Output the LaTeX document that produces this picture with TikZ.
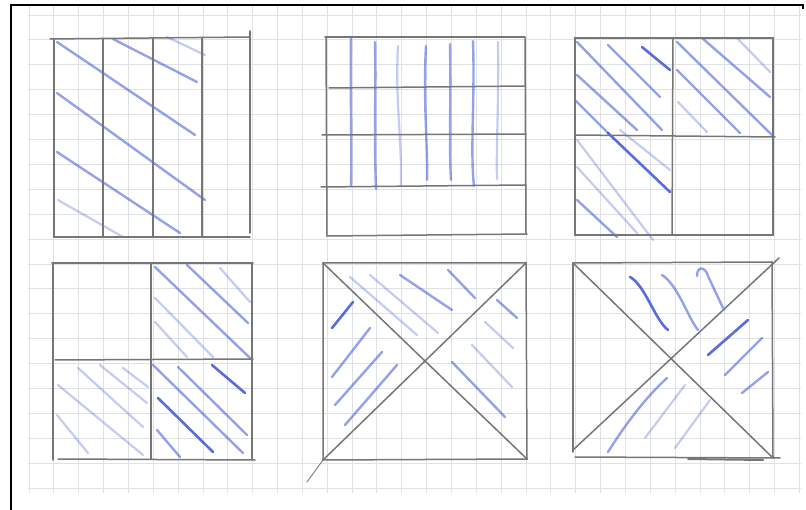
\documentclass[tikz,border=0pt]{standalone}
\usetikzlibrary{calc}
\definecolor{pencilgray}{RGB}{118,118,118}
\definecolor{hatchblue}{RGB}{62,84,214}
\definecolor{gridgray}{RGB}{222,226,231}
\tikzset{
  gridline/.style={
    draw=gridgray,
    line width=0.9pt
  },
  sheetframe/.style={
    draw=black,
    line width=2.0pt
  },
  pencilline/.style={
    draw=pencilgray,
    line width=1.5pt,
    line cap=round
  },
  hatchstrong/.style={
    draw=hatchblue,
    draw opacity=0.85,
    line width=2.6pt,
    line cap=round
  },
  hatchmid/.style={
    draw=hatchblue,
    draw opacity=0.55,
    line width=2.4pt,
    line cap=round
  },
  hatchlight/.style={
    draw=hatchblue,
    draw opacity=0.30,
    line width=2.2pt,
    line cap=round
  }
}

\begin{document}
\begin{tikzpicture}[x=1pt,y=-1pt]

  \useasboundingbox (0,0) rectangle (806,510);

  % Squared paper in the background.
  \foreach \i in {0,...,31}
    \draw[gridline] ({29+24.85*\i},5) -- ({29+24.85*\i},493);
  \foreach \j in {0,...,19}
    \draw[gridline] (28,{15+24.9*\j}) -- (801,{15+24.9*\j});

  % Edge of the scanned sheet.
  \draw[sheetframe] (11,510) -- (11,5) -- (803,5) -- (803,9);

  % Square 1: four vertical strips, three of them hatched.
  \draw[hatchmid] (57,42) -- (195,135);
  \draw[hatchmid] (113,39) -- (197,82);
  \draw[hatchlight] (167,37) -- (205,55);
  \draw[hatchmid] (57,93) -- (205,200);
  \draw[hatchmid] (57,152) -- (180,233);
  \draw[hatchlight] (58,200) -- (123,237);
  \draw[pencilline] (50,39) -- (249,37);
  \draw[pencilline] (54,39) -- (54,237) -- (250,237);
  \draw[pencilline] (250,31) -- (250,233);
  \draw[pencilline] (103,39) -- (103,237);
  \draw[pencilline] (153,38) -- (153,237);
  \draw[pencilline] (202,38) -- (202,237);

  % Square 2: four rows, the upper three hatched upright.
  \draw[hatchmid] (351,37) .. controls (350,90) and (352,140) .. (351,186);
  \draw[hatchmid] (375,42) .. controls (376,90) and (374,140) .. (376,189);
  \draw[hatchlight] (398,46) .. controls (395,100) and (402,140) .. (401,185);
  \draw[hatchmid] (426,46) .. controls (423,100) and (428,150) .. (427,180);
  \draw[hatchmid] (450,44) .. controls (451,100) and (449,150) .. (451,180);
  \draw[hatchmid] (473,41) .. controls (475,100) and (470,150) .. (474,186);
  \draw[hatchlight] (498,42) .. controls (499,100) and (496,150) .. (497,179);
  \draw[pencilline] (325,37) -- (525,37);
  \draw[pencilline] (326,37) -- (327,236) -- (527,234);
  \draw[pencilline] (525,38) -- (526,234);
  \draw[pencilline] (329,88) -- (525,86);
  \draw[pencilline] (322,135) -- (526,134);
  \draw[pencilline] (321,187) -- (525,185);

  % Square 3: quarters, three of them hatched.
  \draw[hatchmid] (577,42) -- (662,130);
  \draw[hatchmid] (608,45) -- (660,97);
  \draw[hatchstrong] (642,47) -- (670,70);
  \draw[hatchmid] (577,75) -- (637,130);
  \draw[hatchmid] (575,100) -- (608,133);
  \draw[hatchstrong] (608,133) -- (670,192);
  \draw[hatchlight] (620,130) -- (670,170);
  \draw[hatchlight] (577,140) -- (653,240);
  \draw[hatchlight] (577,167) -- (637,233);
  \draw[hatchmid] (577,200) -- (617,237);
  \draw[hatchmid] (677,42) -- (772,135);
  \draw[hatchmid] (702,38) -- (770,97);
  \draw[hatchlight] (737,38) -- (770,72);
  \draw[hatchmid] (677,70) -- (740,133);
  \draw[hatchlight] (678,102) -- (707,132);
  \draw[pencilline] (575,38) rectangle (773,235);
  \draw[pencilline] (673,38) -- (672,235);
  \draw[pencilline] (575,135) -- (775,137);

  % Square 4: quarters, the upper left one left blank.
  \draw[hatchmid] (155,267) -- (250,358);
  \draw[hatchmid] (187,265) -- (248,323);
  \draw[hatchlight] (220,268) -- (250,302);
  \draw[hatchlight] (155,298) -- (213,357);
  \draw[hatchlight] (155,322) -- (187,357);
  \draw[hatchlight] (58,385) -- (143,455);
  \draw[hatchlight] (78,368) -- (143,427);
  \draw[hatchlight] (100,365) -- (147,403);
  \draw[hatchlight] (123,368) -- (148,387);
  \draw[hatchlight] (57,415) -- (88,453);
  \draw[hatchmid] (153,365) -- (243,453);
  \draw[hatchmid] (178,367) -- (247,435);
  \draw[hatchstrong] (212,365) -- (245,393);
  \draw[hatchstrong] (158,398) -- (213,452);
  \draw[hatchmid] (157,430) -- (180,457);
  \draw[pencilline] (52,263) -- (253,263);
  \draw[pencilline] (53,264) -- (53,460);
  \draw[pencilline] (58,459) -- (255,460);
  \draw[pencilline] (252,263) -- (252,460);
  \draw[pencilline] (151,263) -- (151,459);
  \draw[pencilline] (55,360) -- (253,359);

  % Square 5: four triangles from the diagonals, three hatched.
  \coordinate (Q5a) at (323,263);
  \coordinate (Q5b) at (526,263);
  \coordinate (Q5c) at (527,459);
  \coordinate (Q5d) at (323,460);
  \draw[hatchlight] (350,277) -- (417,335);
  \draw[hatchlight] (370,275) -- (438,333);
  \draw[hatchmid] (400,275) -- (452,310);
  \draw[hatchmid] (448,270) -- (475,298);
  \draw[hatchmid] (497,300) -- (517,318);
  \draw[hatchlight] (485,322) -- (513,348);
  \draw[hatchlight] (472,345) -- (512,387);
  \draw[hatchmid] (452,362) -- (505,417);
  \draw[hatchstrong] (332,328) -- (353,302);
  \draw[hatchmid] (332,377) -- (370,328);
  \draw[hatchmid] (335,405) -- (382,352);
  \draw[hatchmid] (345,425) -- (397,365);
  \draw[pencilline] (Q5a) -- (Q5b) -- (Q5c) -- (Q5d) -- cycle;
  \draw[pencilline] (Q5a) -- (Q5c);
  \draw[pencilline] (Q5d) -- (Q5b);
  \draw[pencilline,line width=0.9pt] (Q5d) -- (307,482);

  % Square 6: four triangles from the diagonals, three hatched.
  \coordinate (Q6a) at (573,263);
  \coordinate (Q6b) at (772,262);
  \coordinate (Q6c) at (773,458);
  \coordinate (Q6d) at (573,457);
  \draw[hatchstrong] (630,277) .. controls (645,285) and (655,320) .. (668,330);
  \draw[hatchmid] (662,275) .. controls (678,285) and (688,318) .. (698,330);
  \draw[hatchmid] (697,276) .. controls (697,266) and (705,266) .. (708,276) -- (723,308);
  \draw[hatchstrong] (708,355) -- (748,320);
  \draw[hatchmid] (725,375) -- (762,338);
  \draw[hatchmid] (742,393) -- (768,372);
  \draw[hatchmid] (608,452) .. controls (625,425) and (645,398) .. (667,378);
  \draw[hatchlight] (645,438) -- (685,385);
  \draw[hatchlight] (675,448) -- (710,400);
  \draw[pencilline] (Q6a) -- (Q6b);
  \draw[pencilline] (Q6b) -- (Q6c);
  \draw[pencilline] (Q6a) -- (573,452);
  \draw[pencilline] (575,457) -- (780,458);
  \draw[pencilline] (Q6a) -- (Q6c);
  \draw[pencilline] (573,450) -- (779,258);
  \draw[pencilline,line width=2.0pt] (688,459) -- (763,460);

\end{tikzpicture}
\end{document}
